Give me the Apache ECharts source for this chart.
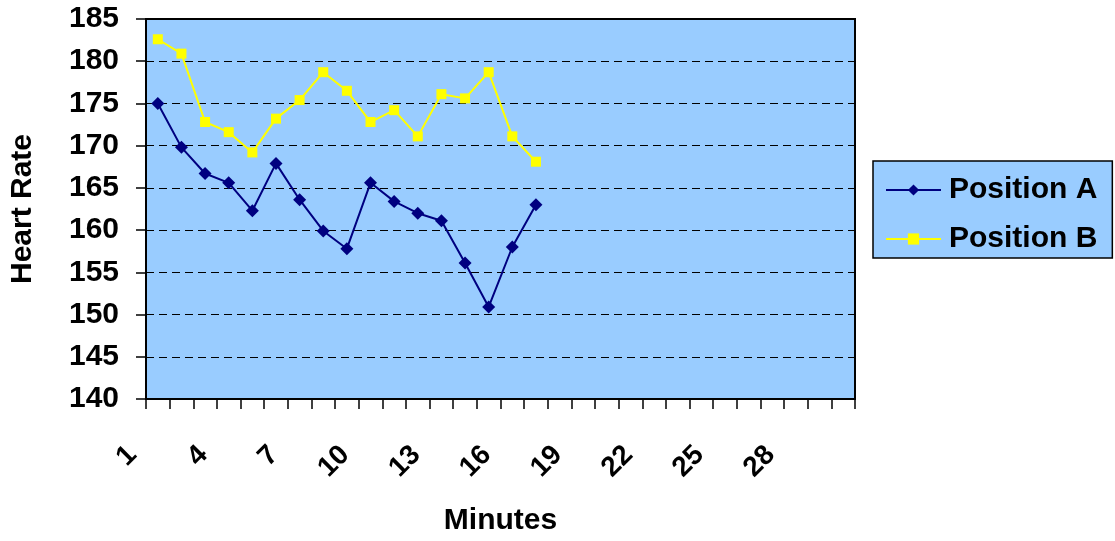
<!DOCTYPE html>
<html>
<head>
<meta charset="utf-8">
<script src="https://cdn.jsdelivr.net/npm/echarts@6/dist/echarts.min.js"></script>
<style>
html,body{margin:0;padding:0;background:#fff;}
#chart{width:1115px;height:541px;}
</style>
</head>
<body>
<div id="chart"></div>
<script>
var minutes = [];
for (var i = 1; i <= 30; i++) minutes.push(String(i));
var positionA = [175.0, 169.8, 166.7, 165.6, 162.3, 167.9, 163.6, 159.9, 157.8, 165.6, 163.4, 162.0, 161.1, 156.1, 150.9, 158.0, 163.0];
var positionB = [182.6, 180.9, 172.8, 171.6, 169.2, 173.2, 175.4, 178.7, 176.5, 172.8, 174.2, 171.1, 176.1, 175.6, 178.7, 171.1, 168.1];
var yMin = 140, yMax = 185, yStep = 5;

var FONT = '"Liberation Sans", Arial, sans-serif';
var chart = echarts.init(document.getElementById('chart'), null, {renderer: 'canvas'});
chart.setOption({
  animation: false,
  backgroundColor: '#ffffff',
  grid: {
    left: 142, right: 260, top: 19, bottom: 141,
    show: true, backgroundColor: '#99CCFF', borderColor: '#000', borderWidth: 2
  },
  legend: {
    orient: 'vertical',
    left: 873, top: 161,
    padding: [14, 15, 4, 12],
    backgroundColor: '#99CCFF',
    borderColor: '#000', borderWidth: 1.5,
    itemWidth: 55, itemHeight: 14, itemGap: 19,
    itemStyle: {borderWidth: 0},
    textStyle: {fontFamily: FONT, fontWeight: 'bold', fontSize: 30, color: '#000', padding: [0,0,0,3]},
    data: ['Position A', 'Position B']
  },
  xAxis: {
    type: 'category',
    data: minutes,
    boundaryGap: true,
    name: 'Minutes',
    nameLocation: 'middle',
    nameGap: 107,
    nameTextStyle: {fontFamily: FONT, fontWeight: 'bold', fontSize: 30, color: '#000'},
    axisLine: {lineStyle: {color: '#000', width: 2}},
    axisTick: {show: true, interval: 0, length: 10, lineStyle: {color: '#000', width: 1.5}},
    axisLabel: {
      interval: 2, rotate: 45, margin: 26,
      padding: [0, 36, 0, 0],
      fontFamily: FONT, fontWeight: 'bold', fontSize: 28, color: '#000'
    },
    splitLine: {show: false}
  },
  yAxis: {
    type: 'value',
    min: yMin, max: yMax, interval: yStep,
    name: 'Heart Rate',
    nameLocation: 'middle',
    nameRotate: 90,
    nameGap: 108,
    nameTextStyle: {fontFamily: FONT, fontWeight: 'bold', fontSize: 30, color: '#000'},
    axisLine: {show: true, lineStyle: {color: '#000', width: 2}},
    axisTick: {show: true, length: 10, lineStyle: {color: '#000', width: 1.5}},
    axisLabel: {margin: 27, fontFamily: FONT, fontWeight: 'bold', fontSize: 30, color: '#000'},
    splitLine: {show: true, lineStyle: {color: '#000', width: 1, type: [8, 5]}}
  },
  series: [
    {
      name: 'Position A', type: 'line', data: positionA,
      symbol: 'diamond', symbolSize: 13,
      lineStyle: {color: '#000080', width: 2},
      itemStyle: {color: '#000080'}
    },
    {
      name: 'Position B', type: 'line', data: positionB,
      symbol: 'rect', symbolSize: 10,
      lineStyle: {color: '#FFFF00', width: 2},
      itemStyle: {color: '#FFFF00'}
    }
  ]
});
</script>
</body>
</html>
